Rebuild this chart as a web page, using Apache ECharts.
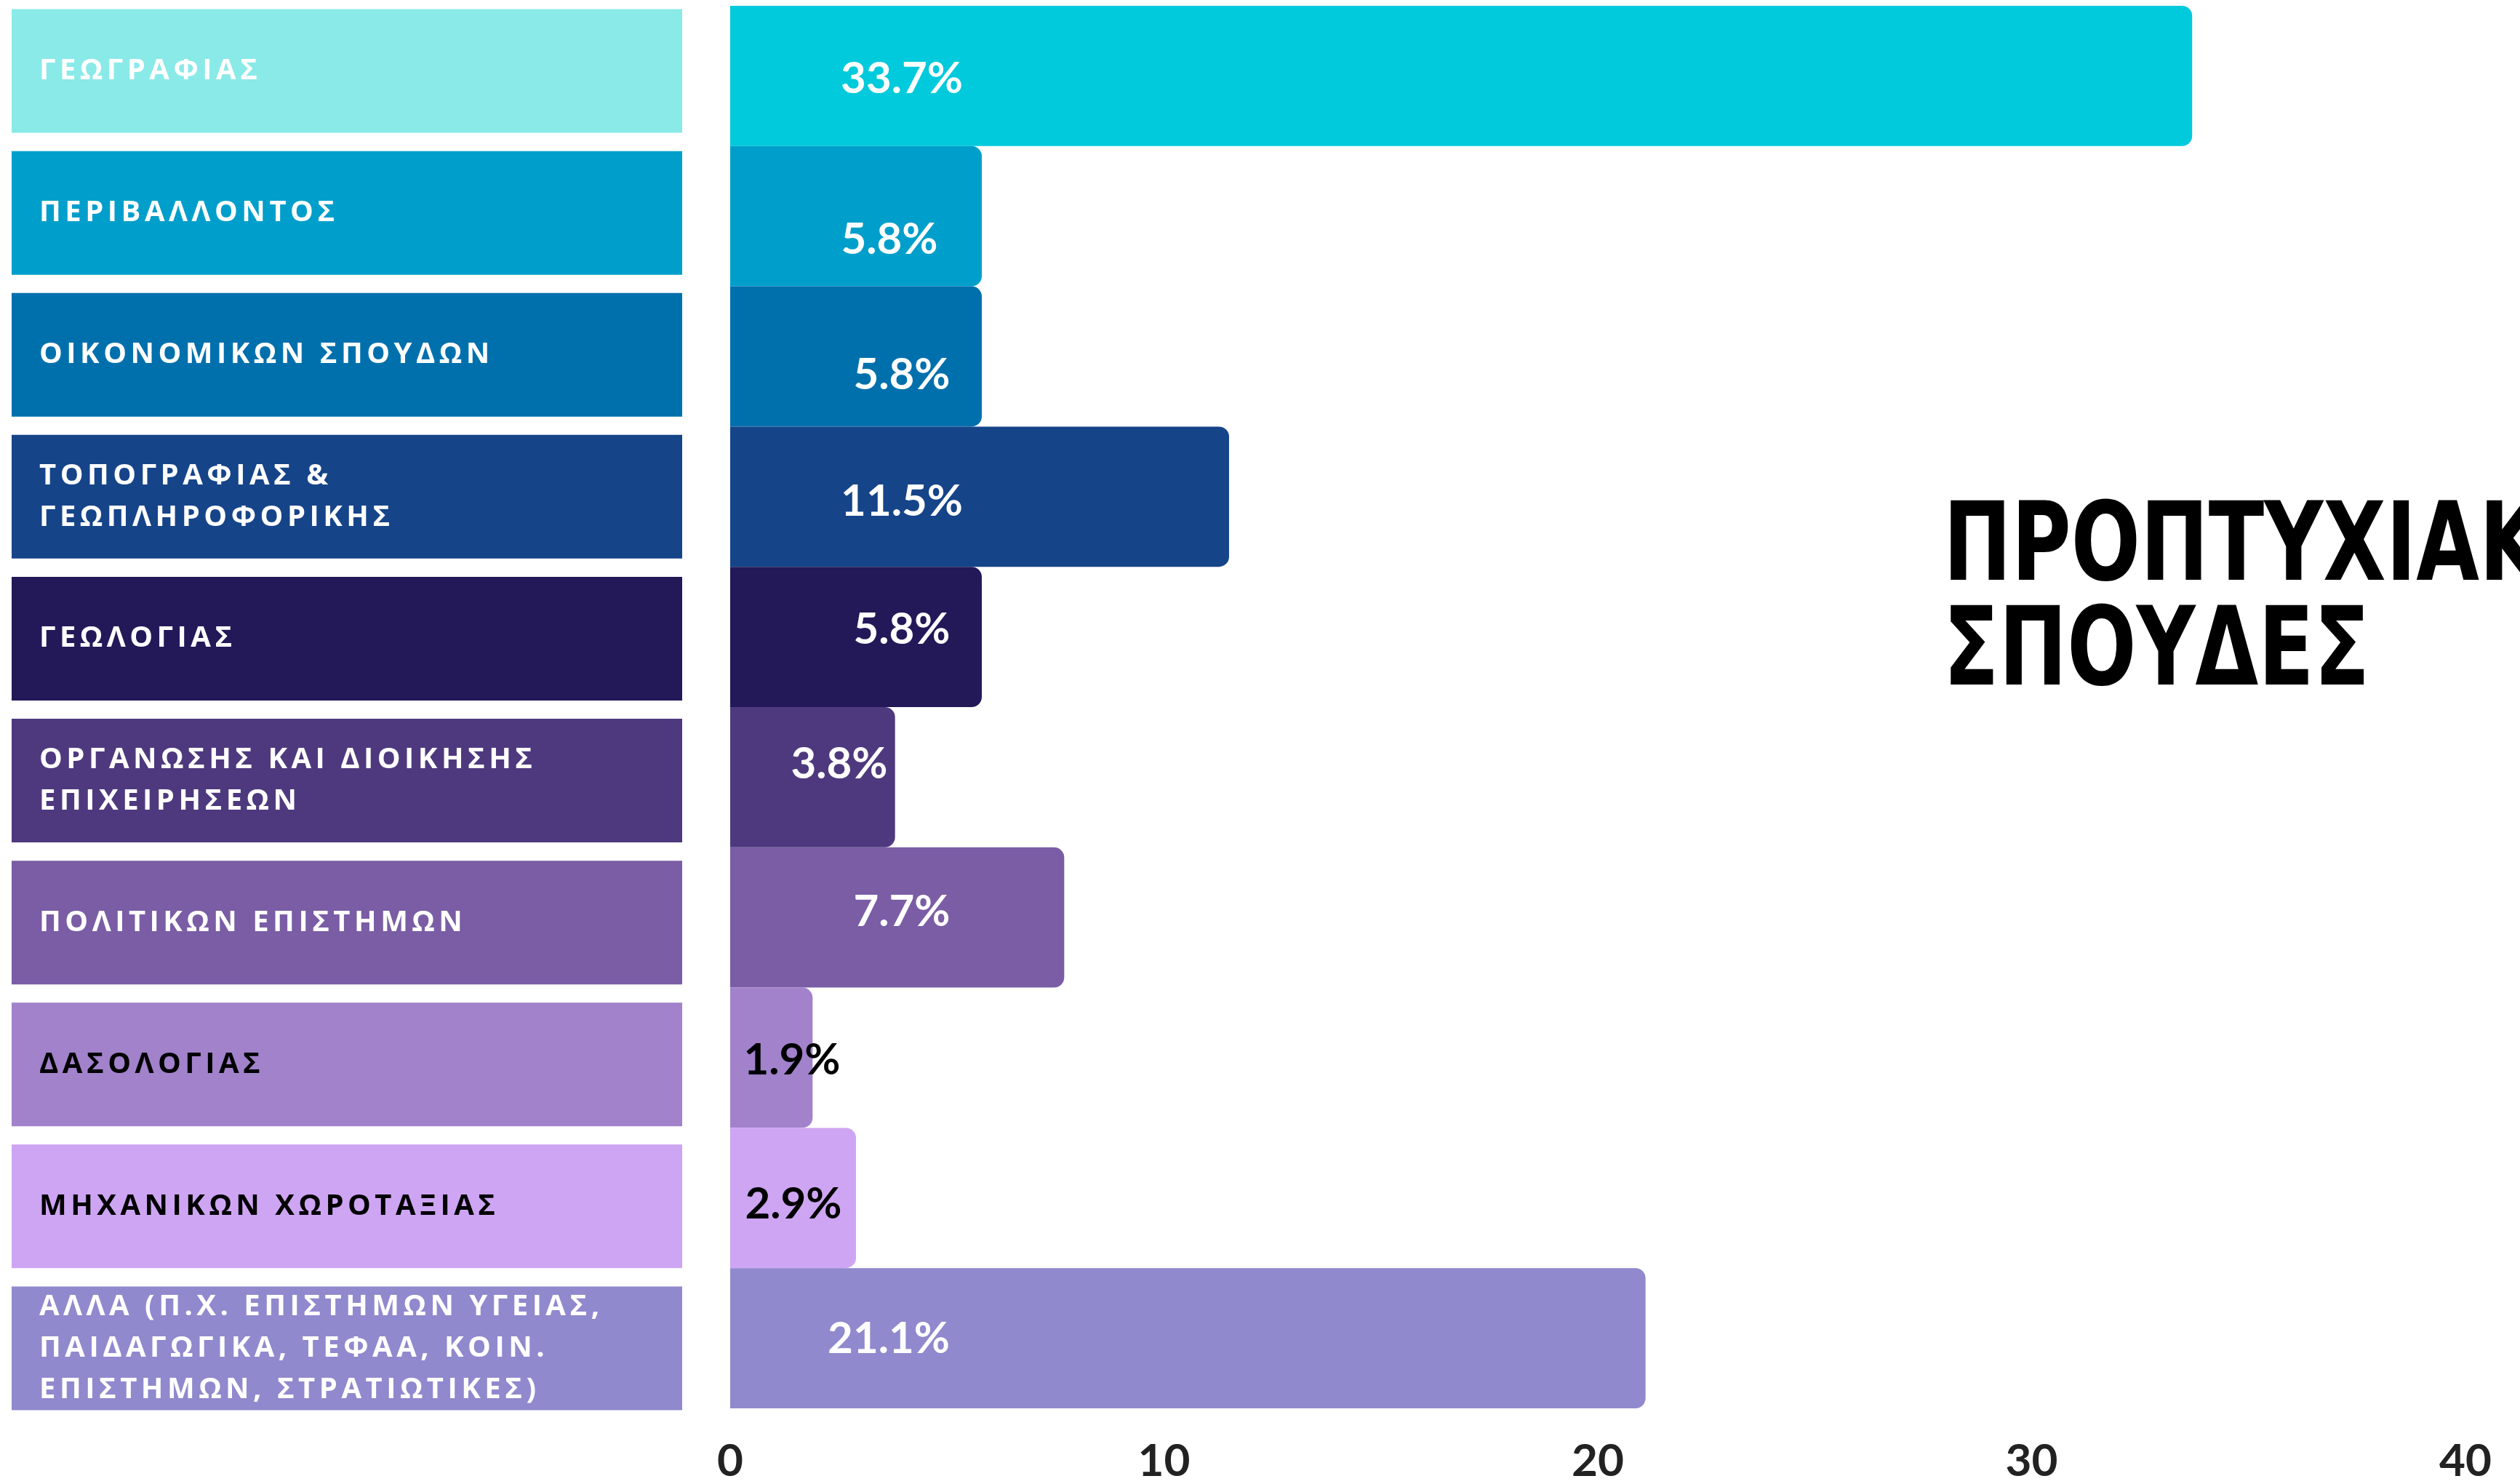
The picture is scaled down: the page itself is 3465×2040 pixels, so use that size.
<!DOCTYPE html>
<html>
<head>
<meta charset="utf-8">
<script src="https://cdn.jsdelivr.net/npm/echarts@6/dist/echarts.min.js"></script>
<style>
html, body { margin: 0; padding: 0; background: #fff; }
#chart { width: 3465px; height: 2040px; }
</style>
</head>
<body>
<div id="chart"></div>
<script>
// data
var categories = [
  'ΓΕΩΓΡΑΦΙΑΣ',
  'ΠΕΡΙΒΑΛΛΟΝΤΟΣ',
  'ΟΙΚΟΝΟΜΙΚΩΝ ΣΠΟΥΔΩΝ',
  'ΤΟΠΟΓΡΑΦΙΑΣ &\nΓΕΩΠΛΗΡΟΦΟΡΙΚΗΣ',
  'ΓΕΩΛΟΓΙΑΣ',
  'ΟΡΓΑΝΩΣΗΣ ΚΑΙ ΔΙΟΙΚΗΣΗΣ\nΕΠΙΧΕΙΡΗΣΕΩΝ',
  'ΠΟΛΙΤΙΚΩΝ ΕΠΙΣΤΗΜΩΝ',
  'ΔΑΣΟΛΟΓΙΑΣ',
  'ΜΗΧΑΝΙΚΩΝ ΧΩΡΟΤΑΞΙΑΣ',
  'ΑΛΛΑ (Π.Χ. ΕΠΙΣΤΗΜΩΝ ΥΓΕΙΑΣ,\nΠΑΙΔΑΓΩΓΙΚΑ, ΤΕΦΑΑ, ΚΟΙΝ.\nΕΠΙΣΤΗΜΩΝ, ΣΤΡΑΤΙΩΤΙΚΕΣ)'
];
var shares = [33.7, 5.8, 5.8, 11.5, 5.8, 3.8, 7.7, 1.9, 2.9, 21.1];
var xTicks = [0, 10, 20, 30, 40];
var titleText = 'ΠΡΟΠΤΥΧΙΑΚΕΣ\nΣΠΟΥΔΕΣ';

// colours
var blockColors = ['#8aeae8', '#009fcb', '#0070ad', '#164489', '#231959',
                   '#4e397e', '#7a5da5', '#a182cb', '#cea5f3', '#9089cd'];
var barColors = ['#00cadb', '#009fcb', '#0070ad', '#164489', '#231959',
                 '#4e397e', '#7a5da5', '#a182cb', '#cea5f3', '#9089cd'];
var inkColors = ['#fff', '#fff', '#fff', '#fff', '#fff',
                 '#fff', '#fff', '#000', '#000', '#fff'];
// where each % label sits: [px from bar start, px from bar middle]
var labelNudge = [[236, 4], [219, 32], [236, 26], [236, 7], [236, -10],
                  [150, -18], [236, -8], [85, 4], [87, 9], [218, 1]];

// spaced-out lettering for the category blocks
var rawFill = CanvasRenderingContext2D.prototype.fillText;
CanvasRenderingContext2D.prototype.fillText = function () {
  this.letterSpacing = this.font.indexOf('Open Sans') >= 0 ? '5.5px' : '0px';
  return rawFill.apply(this, arguments);
};

var chart = echarts.init(document.getElementById('chart'), null, { renderer: 'canvas' });

var blockData = categories.map(function (name, i) {
  return {
    value: 1,
    itemStyle: { color: blockColors[i] },
    label: { color: inkColors[i] }
  };
});

var barData = shares.map(function (v, i) {
  return {
    value: v,
    itemStyle: { color: barColors[i] },
    label: {
      color: inkColors[i],
      position: [labelNudge[i][0], '50%'],
      offset: [0, labelNudge[i][1]]
    }
  };
});

var option = {
  backgroundColor: '#fff',
  animation: false,
  graphic: [{
    type: 'text',
    x: 2672,
    y: 686,
    scaleX: 0.83,
    style: {
      text: titleText,
      fontFamily: "'Liberation Sans Narrow', 'DejaVu Sans Condensed', sans-serif",
      fontWeight: 'bold',
      fontSize: 150,
      lineHeight: 144,
      fill: '#000',
      verticalAlign: 'top'
    }
  }],
  grid: [
    { left: 16, width: 922, top: -1, height: 1952 },
    { left: 1004, width: 2386, top: 8, height: 1936 }
  ],
  xAxis: [
    { gridIndex: 0, type: 'value', min: 0, max: 1, show: false },
    {
      gridIndex: 1, type: 'value', min: xTicks[0], max: xTicks[xTicks.length - 1],
      interval: xTicks[1] - xTicks[0],
      axisLine: { show: false },
      axisTick: { show: false },
      splitLine: { show: false },
      axisLabel: {
        margin: 42,
        color: '#222',
        fontFamily: 'Lato',
        fontWeight: 'bold',
        fontSize: 62
      }
    }
  ],
  yAxis: [
    { gridIndex: 0, type: 'category', inverse: true, data: categories, show: false },
    { gridIndex: 1, type: 'category', inverse: true, data: categories, show: false }
  ],
  series: [
    {
      type: 'bar',
      xAxisIndex: 0,
      yAxisIndex: 0,
      barWidth: 170,
      data: blockData,
      label: {
        show: true,
        position: 'insideLeft',
        distance: 38,
        formatter: '{b}',
        fontFamily: 'Open Sans',
        fontWeight: 'bold',
        fontSize: 40,
        lineHeight: 57
      }
    },
    {
      type: 'bar',
      xAxisIndex: 1,
      yAxisIndex: 1,
      barCategoryGap: 0,
      data: barData,
      itemStyle: { borderRadius: [0, 14, 14, 0] },
      label: {
        show: true,
        align: 'center',
        verticalAlign: 'middle',
        fontFamily: 'Lato',
        fontWeight: 'bold',
        fontSize: 60,
        formatter: function (p) { return p.value.toFixed(1) + '%'; }
      }
    }
  ]
};

chart.setOption(option);
</script>
</body>
</html>
